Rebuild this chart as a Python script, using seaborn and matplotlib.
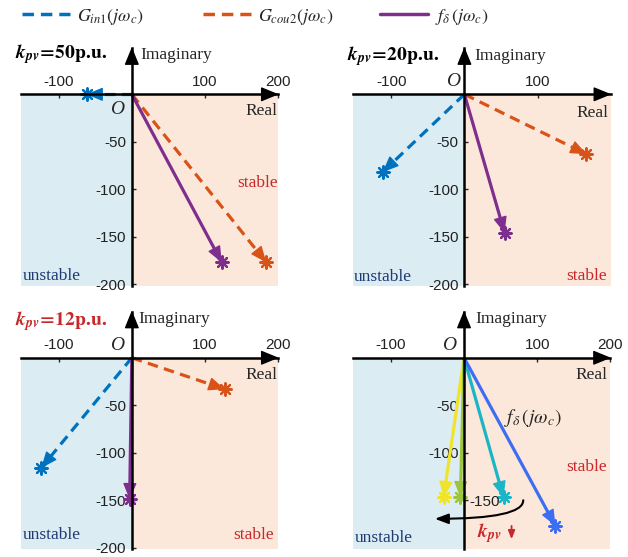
import numpy as np
import pandas as pd
import matplotlib
matplotlib.use("Agg")
import matplotlib.pyplot as plt
from matplotlib.lines import Line2D
import seaborn as sns

sns.set_style("white")
plt.rcParams["font.family"] = ["Liberation Sans", "DejaVu Sans"]
plt.rcParams["mathtext.fontset"] = "stix"
plt.rcParams["axes.unicode_minus"] = False

# Phasor end points (real, imaginary) for the three k_pv cases
kpv_values = ["50", "20", "12"]
g_in1_re = [-62, -112, -124]
g_in1_im = [0, -82, -116]
g_cou2_re = [184, 167, 127]
g_cou2_im = [-177, -63, -33]
f_delta_re = [123, 55, -3]
f_delta_im = [-177, -146, -149]

# f_delta(j w_c) as k_pv decreases (small -> large k_pv)
sweep_re = [-28, -5, 54, 125]
sweep_im = [-147, -147, -147, -177]

x_ticks = [[-100, 100, 200], [-100, 100], [-100, 100, 200], [-100, 100, 200]]
y_ticks = [[-50, -100, -150, -200]] * 3 + [[-50, -100, -150]]

C_IN1 = "#0072BD"
C_COU2 = "#D95319"
C_FD = "#7E2F8E"
SWEEP_COLORS = ["#F0E42A", "#9CC43C", "#1AB5C6", "#3D6DF2"]
SHADE_L = "#DBECF3"
SHADE_R = "#FCE8DA"
NAVY = "#1F3A73"
RED = "#C8282A"
SERIF = ["Liberation Serif", "DejaVu Serif"]

XMIN, XMAX = -152, 200
YMIN, YMAX = -201.5, 48.7

fig = plt.figure(figsize=(6.28, 5.57), dpi=100)
AX_W, AX_H = 257.3 / 628, 237.7 / 557
positions = [(0.033, 0.487), (0.5626, 0.487), (0.033, 0.014), (0.562, 0.014)]
axes = [fig.add_axes([l, b, AX_W, AX_H]) for l, b in positions]


def draw_line(ax, x, y, color, dashed):
    df = pd.DataFrame({"re": [0, x], "im": [0, y]})
    sns.lineplot(data=df, x="re", y="im", sort=False, estimator=None,
                 color=color, lw=2.3, legend=False, ax=ax,
                 linestyle=(0, (3.3, 2.0)) if dashed else "-",
                 solid_capstyle="butt", dash_capstyle="butt", zorder=3)
    sns.scatterplot(x=[x], y=[y], marker=(8, 2, 0), s=80, color=color,
                    edgecolor=color, linewidth=1.6, legend=False, ax=ax, zorder=4)


def draw_head(ax, x, y, color):
    p_end = ax.transData.transform((x, y))
    p0 = ax.transData.transform((0, 0))
    d = p_end - p0
    d = d / np.hypot(*d)
    back = ax.transData.inverted().transform(p_end - d * 10)
    ax.annotate("", xy=(x, y), xytext=back,
                arrowprops=dict(arrowstyle="-|>,head_length=1.0,head_width=0.42",
                                color=color, lw=1.0, shrinkA=0, shrinkB=0),
                zorder=4)


def setup(ax, xt, yt):
    ax.fill_between([XMIN, 0], YMIN, 0, color=SHADE_L, lw=0, zorder=0)
    ax.fill_between([0, XMAX], YMIN, 0, color=SHADE_R, lw=0, zorder=0)
    ax.set_xlim(XMIN, XMAX)
    ax.set_ylim(YMIN, YMAX)
    ax.set_xlabel("")
    ax.set_ylabel("")
    ax.set_facecolor("none")
    for s in ["bottom", "right"]:
        ax.spines[s].set_visible(False)
    for s in ["top", "left"]:
        ax.spines[s].set_position(("data", 0))
        ax.spines[s].set_linewidth(1.8)
        ax.spines[s].set_color("black")
        ax.spines[s].set_zorder(5)
    ax.xaxis.set_ticks_position("top")
    ax.yaxis.set_ticks_position("left")
    ax.set_xticks(xt)
    ax.set_yticks(yt)
    ax.tick_params(direction="in", length=3, width=1, labelsize=11,
                   labelcolor="#222222", pad=4)
    # axis arrows
    ax.annotate("", xy=(XMAX + 1, 0), xytext=(XMAX - 8, 0),
                arrowprops=dict(arrowstyle="-|>,head_length=1.1,head_width=0.45",
                                color="black", lw=1.0, shrinkA=0, shrinkB=0),
                annotation_clip=False, zorder=6)
    ax.annotate("", xy=(0, YMAX + 1), xytext=(0, YMAX - 8),
                arrowprops=dict(arrowstyle="-|>,head_length=1.1,head_width=0.45",
                                color="black", lw=1.0, shrinkA=0, shrinkB=0),
                annotation_clip=False, zorder=6)


def label(ax, x, y, s, **kw):
    kw.setdefault("family", SERIF)
    kw.setdefault("fontsize", 12.5)
    kw.setdefault("va", "center")
    ax.text(x, y, s, clip_on=False, zorder=7, **kw)


# Panels a-c: three phasors each
for i in range(3):
    ax = axes[i]
    draw_line(ax, g_in1_re[i], g_in1_im[i], C_IN1, True)
    draw_line(ax, g_cou2_re[i], g_cou2_im[i], C_COU2, True)
    draw_line(ax, f_delta_re[i], f_delta_im[i], C_FD, False)
    setup(ax, x_ticks[i], y_ticks[i])
    draw_head(ax, g_in1_re[i], g_in1_im[i], C_IN1)
    draw_head(ax, g_cou2_re[i], g_cou2_im[i], C_COU2)
    draw_head(ax, f_delta_re[i], f_delta_im[i], C_FD)

# Panel d: f_delta sweep
ax4 = axes[3]
for xr, yi, c in zip(sweep_re, sweep_im, SWEEP_COLORS):
    draw_line(ax4, xr, yi, c, False)
setup(ax4, x_ticks[3], y_ticks[3])
ax4.set_yticklabels(["-50", "-100", ""])
for xr, yi, c in zip(sweep_re, sweep_im, SWEEP_COLORS):
    draw_head(ax4, xr, yi, c)

# Titles
title_colors = ["black", "black", RED]
title_pos = [(-160, 42), (-160, 40), (-160, 39)]
for i in range(3):
    tx, ty = title_pos[i]
    axes[i].text(tx, ty,
                 r"$\mathbfit{k}_{\mathbfit{pv}}\mathbf{\!=\!" + kpv_values[i] + r"p.\!u.}$",
                 fontsize=14, color=title_colors[i], ha="left", va="center",
                 clip_on=False, zorder=7)

# Axis names, origin, stability regions
imag_pos = [(11.6, 41), (13.7, 40), (9, 41), (16, 40.7)]
real_pos = [(199, -17.7), (197.7, -19.7), (198.6, -18), (196, -18)]
o_pos = [(-20.5, -16.5), (-16, 13.3), (-20, 13.4), (-20, 13)]
stable_pos = [(172, -93.4), (167.5, -191), (166, -187), (167, -115)]
unstable_pos = [(-149, -191), (-150.7, -192), (-149, -187), (-150, -190)]
for i, ax in enumerate(axes):
    label(ax, *imag_pos[i], "Imaginary", ha="left", color="#262626")
    label(ax, *real_pos[i], "Real", ha="right", color="#262626")
    label(ax, *o_pos[i], "O", ha="center", style="italic", fontsize=14)
    label(ax, *stable_pos[i], "stable", ha="center", color=RED)
    label(ax, *unstable_pos[i], "unstable", ha="left", color=NAVY)

# Panel d annotations
ax4.text(28, -152, "-150", fontsize=11, color="#222222", ha="center", va="center", zorder=7)
ax4.text(55, -63.5, r"$f_{\delta}\,(j\omega_c)$", fontsize=14, ha="left", va="center", zorder=7)
ax4.annotate("", xy=(-40, -169.5), xytext=(81, -150),
             arrowprops=dict(arrowstyle="-|>,head_length=0.8,head_width=0.3",
                             connectionstyle="angle3,angleA=90,angleB=0",
                             color="black", lw=1.5, shrinkA=0, shrinkB=0), zorder=7)
ax4.text(35, -184, r"$\mathbfit{k}_{\mathbfit{pv}}$", fontsize=14, color=RED,
         ha="center", va="center", zorder=7)
ax4.annotate("", xy=(65, -191), xytext=(65, -177),
             arrowprops=dict(arrowstyle="-|>,head_length=0.5,head_width=0.2",
                             color=RED, lw=1.3, shrinkA=0, shrinkB=0), zorder=7)

# Shared legend, one entry per series
handles = [Line2D([], [], color=C_IN1, lw=2.5, linestyle=(0, (3.3, 2.0))),
           Line2D([], [], color=C_COU2, lw=2.5, linestyle=(0, (3.3, 2.0))),
           Line2D([], [], color=C_FD, lw=2.5)]
labels = [r"$G_{in1}(j\omega_c)$", r"$G_{cou2}(j\omega_c)$", r"$f_{\delta}\,(j\omega_c)$"]
legend_x = [22 / 628, 203 / 628, 380 / 628]
for h, lab, lx in zip(handles, labels, legend_x):
    fig.legend([h], [lab], loc="center left", bbox_to_anchor=(lx, 0.97),
               frameon=False, fontsize=13, handlelength=2.65,
               handletextpad=0.4, borderpad=0, borderaxespad=0)

fig.savefig("out.png", dpi=100)
